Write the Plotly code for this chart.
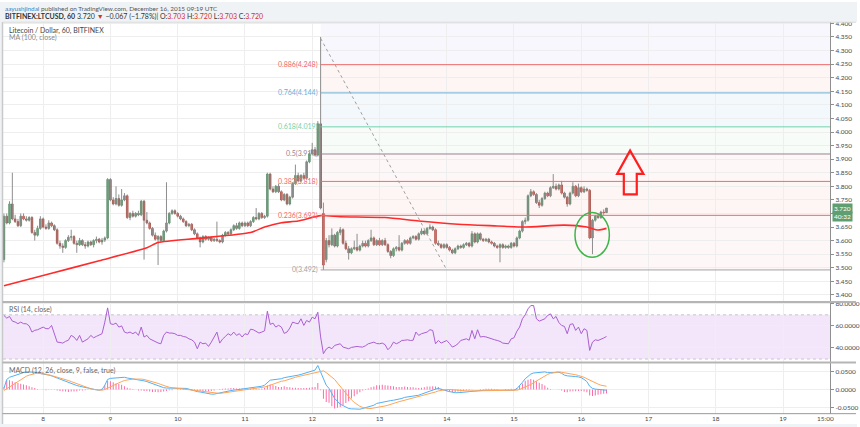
import pandas as pd
import plotly.graph_objects as go

# ------------------------------------------------------------------ data
times = pd.date_range("2015-12-07 10:00", periods=216, freq="h")

opens = [
    3.530, 3.690, 3.665, 3.735, 3.680, 3.670, 3.655, 3.690, 3.680, 3.675, 3.685, 3.630, 3.620, 3.645,
    3.680, 3.650, 3.645, 3.665, 3.655, 3.640, 3.590, 3.580, 3.575, 3.600, 3.612, 3.615, 3.590, 3.585, 3.600, 3.585, 3.580, 3.595, 3.585, 3.600, 3.605, 3.595, 3.602, 3.610,
    3.825, 3.750, 3.735, 3.755, 3.730, 3.750, 3.765, 3.685, 3.700, 3.690, 3.700, 3.695, 3.745, 3.675, 3.665, 3.645, 3.620, 3.605, 3.615, 3.600, 3.635, 3.665, 3.700, 3.710,
    3.700, 3.690, 3.680, 3.670, 3.655, 3.660, 3.640, 3.625, 3.610, 3.595, 3.615, 3.605, 3.610, 3.600, 3.605, 3.600, 3.595, 3.620, 3.630, 3.625, 3.640, 3.655, 3.645, 3.665,
    3.655, 3.665, 3.655, 3.670, 3.685, 3.680, 3.700, 3.685, 3.690, 3.845, 3.790, 3.780, 3.800, 3.780, 3.750, 3.770, 3.735, 3.760, 3.810, 3.840, 3.820, 3.840, 3.830, 3.890,
    3.920, 3.935, 3.915, 4.030, 3.700, 3.530, 3.600, 3.585, 3.620, 3.580, 3.630, 3.640, 3.590, 3.570, 3.555, 3.570, 3.575, 3.565, 3.580, 3.590, 3.580, 3.600, 3.610, 3.585,
    3.600, 3.585, 3.600, 3.585, 3.560, 3.545, 3.570, 3.575, 3.565, 3.590, 3.600, 3.590, 3.610, 3.615, 3.605, 3.625, 3.635, 3.625, 3.645, 3.650, 3.640, 3.590, 3.585, 3.575,
    3.585, 3.575, 3.565, 3.555, 3.570, 3.580, 3.575, 3.585, 3.590, 3.580, 3.625, 3.595, 3.625, 3.605, 3.600, 3.605, 3.595, 3.590, 3.580, 3.575, 3.585, 3.575, 3.580, 3.575,
    3.590, 3.580, 3.610, 3.635, 3.670, 3.675, 3.765, 3.780, 3.770, 3.740, 3.730, 3.755, 3.775, 3.765, 3.795, 3.800, 3.790, 3.805, 3.775, 3.760, 3.735, 3.775, 3.800, 3.765,
    3.795, 3.780, 3.790, 3.785, 3.610, 3.675, 3.690, 3.685, 3.705, 3.703,
]
highs = [
    3.700, 3.700, 3.745, 3.850, 3.695, 3.680, 3.700, 3.700, 3.690, 3.690, 3.690, 3.640, 3.655, 3.690,
    3.685, 3.660, 3.675, 3.670, 3.660, 3.645, 3.600, 3.590, 3.605, 3.620, 3.640, 3.620, 3.600, 3.610, 3.605, 3.595, 3.600, 3.600, 3.605, 3.615, 3.610, 3.610, 3.615, 3.830,
    3.830, 3.760, 3.800, 3.770, 3.790, 3.775, 3.770, 3.705, 3.710, 3.705, 3.710, 3.750, 3.750, 3.705, 3.670, 3.650, 3.630, 3.620, 3.620, 3.640, 3.815, 3.705, 3.715, 3.715,
    3.705, 3.695, 3.685, 3.675, 3.665, 3.665, 3.645, 3.630, 3.615, 3.620, 3.620, 3.615, 3.615, 3.610, 3.670, 3.605, 3.625, 3.635, 3.635, 3.645, 3.660, 3.665, 3.670, 3.670,
    3.670, 3.670, 3.675, 3.690, 3.720, 3.705, 3.705, 3.695, 3.850, 3.850, 3.800, 3.805, 3.810, 3.785, 3.775, 3.775, 3.765, 3.815, 3.880, 3.850, 3.845, 3.850, 3.895, 3.925,
    3.960, 3.945, 4.040, 4.350, 3.740, 3.610, 3.620, 3.645, 3.625, 3.635, 3.650, 3.645, 3.600, 3.580, 3.575, 3.600, 3.625, 3.585, 3.600, 3.600, 3.605, 3.640, 3.615, 3.605,
    3.610, 3.605, 3.610, 3.590, 3.565, 3.575, 3.580, 3.620, 3.595, 3.605, 3.605, 3.615, 3.620, 3.620, 3.630, 3.645, 3.640, 3.650, 3.660, 3.655, 3.645, 3.600, 3.590, 3.590,
    3.590, 3.580, 3.570, 3.575, 3.585, 3.585, 3.590, 3.595, 3.595, 3.635, 3.630, 3.630, 3.630, 3.610, 3.610, 3.610, 3.600, 3.595, 3.585, 3.590, 3.590, 3.585, 3.585, 3.595,
    3.595, 3.615, 3.640, 3.675, 3.685, 3.770, 3.790, 3.785, 3.775, 3.750, 3.760, 3.780, 3.780, 3.800, 3.845, 3.810, 3.810, 3.820, 3.780, 3.765, 3.780, 3.815, 3.805, 3.810,
    3.800, 3.800, 3.795, 3.790, 3.680, 3.695, 3.700, 3.710, 3.715, 3.720,
]
lows = [
    3.520, 3.660, 3.660, 3.675, 3.665, 3.650, 3.650, 3.675, 3.670, 3.670, 3.625, 3.600, 3.615, 3.640,
    3.645, 3.640, 3.640, 3.650, 3.635, 3.585, 3.570, 3.555, 3.570, 3.595, 3.600, 3.585, 3.555, 3.580, 3.580, 3.570, 3.575, 3.580, 3.575, 3.590, 3.590, 3.585, 3.595, 3.605,
    3.745, 3.730, 3.730, 3.725, 3.725, 3.745, 3.680, 3.675, 3.685, 3.685, 3.690, 3.690, 3.530, 3.660, 3.640, 3.615, 3.600, 3.510, 3.595, 3.595, 3.630, 3.660, 3.695, 3.695,
    3.685, 3.675, 3.665, 3.650, 3.650, 3.635, 3.620, 3.605, 3.575, 3.590, 3.600, 3.600, 3.595, 3.595, 3.595, 3.590, 3.590, 3.615, 3.620, 3.620, 3.635, 3.640, 3.640, 3.650,
    3.650, 3.650, 3.650, 3.665, 3.675, 3.675, 3.680, 3.680, 3.685, 3.785, 3.775, 3.775, 3.775, 3.745, 3.745, 3.730, 3.730, 3.755, 3.805, 3.815, 3.815, 3.825, 3.825, 3.885,
    3.915, 3.910, 3.910, 3.715, 3.492, 3.520, 3.575, 3.580, 3.575, 3.575, 3.620, 3.585, 3.565, 3.530, 3.550, 3.565, 3.560, 3.560, 3.575, 3.575, 3.575, 3.595, 3.580, 3.580,
    3.580, 3.580, 3.580, 3.555, 3.535, 3.540, 3.560, 3.560, 3.560, 3.585, 3.585, 3.585, 3.605, 3.600, 3.600, 3.620, 3.620, 3.620, 3.640, 3.635, 3.585, 3.580, 3.570, 3.570,
    3.570, 3.560, 3.550, 3.550, 3.565, 3.570, 3.570, 3.580, 3.575, 3.575, 3.590, 3.590, 3.600, 3.595, 3.595, 3.590, 3.585, 3.575, 3.570, 3.520, 3.570, 3.570, 3.570, 3.570,
    3.575, 3.575, 3.605, 3.630, 3.660, 3.670, 3.760, 3.765, 3.735, 3.720, 3.725, 3.750, 3.760, 3.760, 3.790, 3.785, 3.785, 3.770, 3.755, 3.725, 3.730, 3.770, 3.760, 3.760,
    3.775, 3.775, 3.780, 3.605, 3.550, 3.670, 3.680, 3.680, 3.695, 3.703,
]
closes = [
    3.690, 3.665, 3.735, 3.680, 3.670, 3.655, 3.690, 3.680, 3.675, 3.685, 3.630, 3.620, 3.645, 3.680,
    3.650, 3.645, 3.665, 3.655, 3.640, 3.590, 3.580, 3.575, 3.600, 3.612, 3.615, 3.590, 3.585, 3.600, 3.585, 3.580, 3.595, 3.585, 3.600, 3.605, 3.595, 3.602, 3.610, 3.825,
    3.750, 3.735, 3.755, 3.730, 3.750, 3.765, 3.685, 3.700, 3.690, 3.700, 3.695, 3.745, 3.675, 3.665, 3.645, 3.620, 3.605, 3.615, 3.600, 3.635, 3.665, 3.700, 3.710, 3.700,
    3.690, 3.680, 3.670, 3.655, 3.660, 3.640, 3.625, 3.610, 3.595, 3.615, 3.605, 3.610, 3.600, 3.605, 3.600, 3.595, 3.620, 3.630, 3.625, 3.640, 3.655, 3.645, 3.665, 3.655,
    3.665, 3.655, 3.670, 3.685, 3.680, 3.700, 3.685, 3.690, 3.845, 3.790, 3.780, 3.800, 3.780, 3.750, 3.770, 3.735, 3.760, 3.810, 3.840, 3.820, 3.840, 3.830, 3.890, 3.920,
    3.935, 3.915, 4.030, 3.720, 3.510, 3.600, 3.585, 3.620, 3.580, 3.630, 3.640, 3.590, 3.570, 3.555, 3.570, 3.575, 3.565, 3.580, 3.590, 3.580, 3.600, 3.610, 3.585, 3.600,
    3.585, 3.600, 3.585, 3.560, 3.545, 3.570, 3.575, 3.565, 3.590, 3.600, 3.590, 3.610, 3.615, 3.605, 3.625, 3.635, 3.625, 3.645, 3.650, 3.640, 3.590, 3.585, 3.575, 3.585,
    3.575, 3.565, 3.555, 3.570, 3.580, 3.575, 3.585, 3.590, 3.580, 3.625, 3.595, 3.625, 3.605, 3.600, 3.605, 3.595, 3.590, 3.580, 3.575, 3.585, 3.575, 3.580, 3.575, 3.590,
    3.580, 3.610, 3.635, 3.670, 3.675, 3.765, 3.780, 3.770, 3.740, 3.730, 3.755, 3.775, 3.765, 3.795, 3.800, 3.790, 3.805, 3.775, 3.760, 3.735, 3.775, 3.800, 3.765, 3.795,
    3.780, 3.790, 3.785, 3.610, 3.675, 3.690, 3.685, 3.705, 3.703, 3.720,
]

# MA(100, close) read at these bar indices
ma_index = [0, 16, 34, 51, 55, 70, 88, 93, 99, 105, 113, 120, 136, 148, 162, 176, 186, 200, 208, 212, 215]
ma_value = [3.434, 3.477, 3.526, 3.574, 3.593, 3.609, 3.630, 3.650, 3.666, 3.672, 3.692, 3.688,
            3.685, 3.672, 3.660, 3.654, 3.650, 3.657, 3.650, 3.639, 3.645]

rsi = [
    69.4, 67.0, 68.5, 64.3, 63.5, 62.0, 63.4, 62.0, 61.9, 60.0,
    54.4, 56.0, 56.5, 58.0, 58.9, 57.5, 57.4, 60.4, 53.0, 45.3,
    45.0, 44.4, 46.0, 47.0, 51.4, 49.9, 46.8, 51.4, 45.3, 47.0,
    48.3, 51.4, 49.2, 50.5, 51.4, 52.9, 63.4, 76.3, 61.9, 61.3,
    62.5, 58.9, 60.0, 54.4, 53.5, 54.4, 52.9, 54.4, 51.4, 58.9,
    49.9, 51.4, 48.3, 46.8, 45.3, 44.5, 43.8, 51.4, 54.4, 53.5,
    53.5, 52.9, 51.4, 51.4, 50.4, 49.9, 48.3, 47.4, 45.3, 39.3,
    45.3, 43.8, 44.4, 41.4, 45.3, 50.0, 54.4, 44.4, 48.0, 50.4,
    52.9, 51.4, 54.4, 51.4, 52.9, 49.9, 52.9, 52.0, 57.0, 56.5,
    55.0, 53.5, 54.4, 55.5, 73.3, 61.3, 62.5, 58.9, 60.5, 58.9,
    53.2, 54.4, 58.0, 63.4, 62.5, 61.9, 66.4, 60.4, 64.9, 63.4,
    67.9, 66.4, 72.4, 50.0, 34.8, 39.0, 40.8, 39.3, 42.3, 43.0,
    43.8, 40.8, 40.0, 39.3, 40.5, 40.8, 41.4, 41.0, 40.8, 42.0,
    43.8, 44.5, 45.3, 44.0, 43.8, 44.4, 43.0, 38.4, 41.0, 45.3,
    43.8, 45.0, 46.8, 47.0, 47.4, 46.8, 47.0, 54.4, 51.4, 52.9,
    53.5, 54.4, 56.5, 55.9, 43.8, 46.8, 44.4, 45.5, 46.8, 44.0,
    40.8, 42.0, 43.8, 46.8, 47.5, 48.3, 47.0, 55.9, 48.3, 56.5,
    49.9, 50.4, 50.0, 49.0, 48.3, 47.5, 46.8, 46.0, 44.4, 44.0,
    43.8, 48.3, 49.2, 55.0, 58.9, 66.4, 70.0, 75.4, 78.4, 78.4,
    66.4, 64.3, 65.0, 66.4, 69.4, 70.9, 66.4, 68.5, 63.0, 60.4,
    59.5, 52.9, 61.3, 61.9, 55.9, 58.9, 52.9, 57.4, 55.9, 37.8,
    45.3, 47.4, 46.8, 48.3, 49.0, 50.4,
]

macd = [
    0.003, 0.028, 0.034, 0.037, 0.039, 0.042, 0.045, 0.047, 0.049, 0.049,
    0.049, 0.048, 0.046, 0.045, 0.043, 0.041, 0.040, 0.038, 0.036, 0.032,
    0.029, 0.026, 0.022, 0.018, 0.016, 0.013, 0.011, 0.009, 0.007, 0.005,
    0.003, 0.001, 0.000, -0.001, -0.002, 0.000, 0.012, 0.028, 0.031, 0.032,
    0.033, 0.034, 0.035, 0.034, 0.032, 0.031, 0.030, 0.029, 0.027, 0.026,
    0.024, 0.022, 0.019, 0.016, 0.013, 0.009, 0.007, 0.005, 0.004, 0.004,
    0.003, 0.004, 0.005, 0.005, 0.004, 0.003, 0.001, -0.002, -0.004, -0.006,
    -0.007, -0.009, -0.011, -0.012, -0.013, -0.013, -0.011, -0.010, -0.008, -0.006,
    -0.005, -0.003, -0.002, -0.001, 0.000, 0.001, 0.002, 0.003, 0.005, 0.006,
    0.007, 0.007, 0.009, 0.012, 0.020, 0.026, 0.027, 0.028, 0.028, 0.030,
    0.033, 0.034, 0.036, 0.037, 0.039, 0.040, 0.042, 0.044, 0.046, 0.049,
    0.051, 0.054, 0.067, 0.049, 0.026, 0.012, 0.003, -0.012, -0.025, -0.033,
    -0.041, -0.045, -0.050, -0.053, -0.054, -0.055, -0.055, -0.055, -0.053, -0.051,
    -0.050, -0.047, -0.044, -0.039, -0.037, -0.035, -0.034, -0.033, -0.031, -0.030,
    -0.029, -0.027, -0.025, -0.022, -0.021, -0.020, -0.018, -0.017, -0.016, -0.013,
    -0.010, -0.006, -0.003, 0.000, 0.001, 0.003, 0.000, -0.002, -0.004, -0.006,
    -0.008, -0.009, -0.009, -0.009, -0.008, -0.007, -0.006, -0.005, -0.004, -0.004,
    -0.003, -0.003, -0.002, -0.002, -0.002, -0.003, -0.003, -0.004, -0.004, -0.003,
    -0.003, -0.002, -0.002, 0.002, 0.010, 0.020, 0.030, 0.037, 0.043, 0.046,
    0.047, 0.048, 0.049, 0.049, 0.047, 0.046, 0.047, 0.048, 0.048, 0.045,
    0.040, 0.038, 0.038, 0.038, 0.036, 0.035, 0.033, 0.028, 0.022, 0.009,
    0.003, 0.001, 0.000, -0.001, -0.002, -0.002,
]
signal = [
    -0.003, 0.002, 0.008, 0.014, 0.019, 0.024, 0.029, 0.033, 0.037, 0.040,
    0.043, 0.044, 0.045, 0.045, 0.044, 0.043, 0.041, 0.039, 0.037, 0.035,
    0.033, 0.031, 0.028, 0.025, 0.022, 0.019, 0.016, 0.012, 0.010, 0.007,
    0.004, 0.002, 0.000, -0.001, -0.002, -0.002, 0.000, 0.004, 0.008, 0.012,
    0.016, 0.019, 0.022, 0.025, 0.027, 0.028, 0.029, 0.029, 0.030, 0.029,
    0.028, 0.026, 0.025, 0.023, 0.020, 0.017, 0.014, 0.011, 0.008, 0.006,
    0.005, 0.004, 0.003, 0.003, 0.003, 0.002, 0.001, 0.000, -0.001, -0.002,
    -0.003, -0.004, -0.006, -0.007, -0.009, -0.010, -0.011, -0.011, -0.010, -0.009,
    -0.008, -0.007, -0.006, -0.004, -0.003, -0.002, 0.000, 0.001, 0.002, 0.003,
    0.004, 0.005, 0.006, 0.007, 0.009, 0.012, 0.015, 0.018, 0.021, 0.023,
    0.024, 0.027, 0.030, 0.032, 0.034, 0.036, 0.038, 0.040, 0.042, 0.044,
    0.045, 0.047, 0.049, 0.051, 0.052, 0.047, 0.040, 0.035, 0.028, 0.018,
    0.008, -0.002, -0.012, -0.020, -0.029, -0.036, -0.042, -0.047, -0.050, -0.052,
    -0.053, -0.053, -0.052, -0.051, -0.049, -0.048, -0.046, -0.044, -0.041, -0.039,
    -0.036, -0.034, -0.032, -0.030, -0.028, -0.026, -0.024, -0.022, -0.020, -0.018,
    -0.016, -0.014, -0.011, -0.009, -0.007, -0.004, -0.002, -0.001, 0.000, 0.000,
    -0.001, -0.002, -0.003, -0.003, -0.004, -0.004, -0.004, -0.004, -0.004, -0.004,
    -0.004, -0.004, -0.004, -0.004, -0.004, -0.004, -0.004, -0.004, -0.004, -0.004,
    -0.004, -0.004, -0.003, -0.002, 0.000, 0.003, 0.006, 0.010, 0.014, 0.019,
    0.024, 0.029, 0.034, 0.038, 0.042, 0.045, 0.047, 0.048, 0.049, 0.048,
    0.047, 0.046, 0.044, 0.043, 0.041, 0.039, 0.037, 0.034, 0.030, 0.026,
    0.021, 0.018, 0.015, 0.012, 0.010, 0.009,
]

fib_ratio_labels = ["0", "0.236", "0.382", "0.5", "0.618", "0.764", "0.886"]
fib_prices = [3.492, 3.693, 3.818, 3.919, 4.019, 4.144, 4.248]
fib_top_price = 4.345           # level 1 (anchor high)
fib_anchor_bar = 113            # bar where the fib starts
fib_low_bar = 158               # bar where the diagonal ends

price_ticks = [round(3.40 + 0.05 * k, 2) for k in range(21)]
price_hidden = [3.70]           # covered by the last-price boxes in the reference
rsi_ticks = [40, 60, 80]
macd_ticks = [-0.05, 0.0, 0.05]
day_ticks = pd.date_range("2015-12-08", "2015-12-19", freq="D")
day_labels = [str(d.day) for d in day_ticks]

# ------------------------------------------------------------------ geometry
W, H = 860, 427


def px(x):
    return x / W


def py(y):
    return 1 - y / H


x_range = [pd.Timestamp("2015-12-07 09:40"), pd.Timestamp("2015-12-19 16:47")]
price_range = [3.3754, 4.4055]
HOUR_MS = 3600 * 1000

UP, DOWN = "#5d9c6d", "#c8473a"
GRID = "#eeeeee"
AXIS_TXT = "#4a4a4a"
FONT = "Lato, Liberation Sans, Arial, sans-serif"

fig = go.Figure()

# wicks
wx, wy = [], []
for t, lo, hi in zip(times, lows, highs):
    wx += [t, t, None]
    wy += [lo, hi, None]
fig.add_trace(go.Scatter(x=wx, y=wy, mode="lines", line=dict(color="#8d8d8d", width=1),
                         hoverinfo="skip", xaxis="x", yaxis="y"))

# bodies
up_x = [t for t, o, c in zip(times, opens, closes) if c >= o]
up_b = [o for o, c in zip(opens, closes) if c >= o]
up_h = [c - o for o, c in zip(opens, closes) if c >= o]
dn_x = [t for t, o, c in zip(times, opens, closes) if c < o]
dn_b = [c for o, c in zip(opens, closes) if c < o]
dn_h = [o - c for o, c in zip(opens, closes) if c < o]
fig.add_trace(go.Bar(x=up_x, y=up_h, base=up_b, width=0.6 * HOUR_MS,
                     marker=dict(color=UP, line=dict(color="#3f7a50", width=0.6)),
                     xaxis="x", yaxis="y", hoverinfo="skip"))
fig.add_trace(go.Bar(x=dn_x, y=dn_h, base=dn_b, width=0.6 * HOUR_MS,
                     marker=dict(color=DOWN, line=dict(color="#9a2e24", width=0.6)),
                     xaxis="x", yaxis="y", hoverinfo="skip"))

# MA
fig.add_trace(go.Scatter(x=[times[i] for i in ma_index], y=ma_value, mode="lines",
                         line=dict(color="#ff2b2b", width=1.6, shape="spline", smoothing=0.6),
                         xaxis="x", yaxis="y", hoverinfo="skip"))

# RSI
fig.add_trace(go.Scatter(x=times, y=rsi, mode="lines", line=dict(color="#a95fd0", width=1),
                         xaxis="x2", yaxis="y2", hoverinfo="skip"))

# MACD
hist = [m - s for m, s in zip(macd, signal)]
fig.add_trace(go.Bar(x=times, y=hist, width=0.35 * HOUR_MS, marker=dict(color="#fa6aa6", line=dict(width=0)),
                     xaxis="x3", yaxis="y3", hoverinfo="skip"))
fig.add_trace(go.Scatter(x=times, y=macd, mode="lines", line=dict(color="#52b0f5", width=1),
                         xaxis="x3", yaxis="y3", hoverinfo="skip"))
fig.add_trace(go.Scatter(x=times, y=signal, mode="lines", line=dict(color="#ffa556", width=1),
                         xaxis="x3", yaxis="y3", hoverinfo="skip"))

# ------------------------------------------------------------------ axes
xcommon = dict(range=x_range, domain=[px(3), px(833)], tickvals=day_ticks, ticktext=day_labels,
               showgrid=True, gridcolor=GRID, gridwidth=1, zeroline=False, showline=False,
               ticks="", fixedrange=True)
ycommon = dict(side="right", showgrid=True, gridcolor=GRID, zeroline=False, showline=True,
               linecolor="#8f8f8f", linewidth=1, ticks="outside", ticklen=3, tickcolor="#8f8f8f",
               tickfont=dict(family=FONT, size=6.5, color=AXIS_TXT), fixedrange=True)

fig.update_layout(
    xaxis=dict(**xcommon, anchor="y", showticklabels=False),
    xaxis2=dict(**xcommon, anchor="y2", matches="x", showticklabels=False),
    xaxis3=dict(**xcommon, anchor="y3", matches="x", showticklabels=True,
                tickfont=dict(family=FONT, size=6.5, color=AXIS_TXT)),
    yaxis=dict(**ycommon, anchor="x", domain=[py(301), py(20)], range=price_range,
               tickvals=price_ticks,
               ticktext=["" if v in price_hidden else f"{v:.3f}" for v in price_ticks]),
    yaxis2=dict(**ycommon, anchor="x2", domain=[py(362), py(301.5)], range=[27.03, 81.53],
                tickvals=rsi_ticks, ticktext=[f"{v:.4f}" for v in rsi_ticks]),
    yaxis3=dict(**ycommon, anchor="x3", domain=[py(413.5), py(362.5)], range=[-0.0672, 0.0744],
                tickvals=macd_ticks, ticktext=[f"{v:.4f}" for v in macd_ticks]),
)

# ------------------------------------------------------------------ shapes
shapes = []
# header / frame
shapes.append(dict(type="rect", xref="paper", yref="paper", x0=0, x1=1, y0=py(20), y1=1,
                   fillcolor="#f0f3f6", line=dict(width=0), layer="below"))
shapes.append(dict(type="rect", xref="paper", yref="paper", x0=0, x1=1, y0=0, y1=py(424),
                   fillcolor="#f0f3f6", line=dict(width=0), layer="below"))
shapes.append(dict(type="rect", xref="paper", yref="paper", x0=0, x1=px(2.5), y0=0, y1=1,
                   fillcolor="#f0f3f6", line=dict(width=0), layer="below"))
shapes.append(dict(type="line", xref="paper", yref="paper", x0=px(2.5), x1=px(2.5), y0=py(424), y1=py(20),
                   line=dict(color="#c9c9c9", width=1.5)))
shapes.append(dict(type="line", xref="paper", yref="paper", x0=px(2.5), x1=px(859), y0=py(20.3), y1=py(20.3),
                   line=dict(color="#d8d8d8", width=1)))

# fib fills (the top zone continues past level 1 to the panel top)
fib_fill_colors = ["rgba(242,80,80,0.045)", "rgba(242,80,80,0.055)", "rgba(242,80,80,0.045)",
                   "rgba(120,200,160,0.06)", "rgba(95,168,211,0.08)", "rgba(240,107,107,0.07)",
                   "rgba(150,140,230,0.07)"]
fib_line_colors = ["#a3a3a3", "#f36a6a", "#f36a6a", "#9a8190", "#72d3ac", "#6aaed8", "#f06b6b"]
bounds = fib_prices + [price_range[1]]
x_fib0 = times[fib_anchor_bar]
for k in range(len(fib_prices)):
    shapes.append(dict(type="rect", xref="x", yref="y", x0=x_fib0, x1=x_range[1],
                       y0=bounds[k], y1=bounds[k + 1], fillcolor=fib_fill_colors[k],
                       line=dict(width=0), layer="below"))
for p, c in zip(fib_prices, fib_line_colors):
    shapes.append(dict(type="line", xref="x", yref="y", x0=x_fib0, x1=x_range[1], y0=p, y1=p,
                       line=dict(color=c, width=1)))
shapes.append(dict(type="line", xref="x", yref="y", x0=x_fib0, x1=times[fib_low_bar],
                   y0=fib_top_price, y1=fib_prices[0], line=dict(color="#a0a0a0", width=1, dash="dot")))

# RSI band
shapes.append(dict(type="rect", xref="x2", yref="y2", x0=x_range[0], x1=x_range[1], y0=30, y1=70,
                   fillcolor="#f3e6fb", line=dict(width=0), layer="below"))
for lvl in (30, 70):
    shapes.append(dict(type="line", xref="x2", yref="y2", x0=x_range[0], x1=x_range[1], y0=lvl, y1=lvl,
                       line=dict(color="#c7c7c7", width=1, dash="dot"), layer="below"))

# panel separators
for yy in (301.3, 362.3):
    shapes.append(dict(type="line", xref="paper", yref="paper", x0=px(2.5), x1=px(859), y0=py(yy), y1=py(yy),
                       line=dict(color="#b5b5b5", width=2)))
shapes.append(dict(type="line", xref="paper", yref="paper", x0=px(2.5), x1=px(859), y0=py(413.6), y1=py(413.6),
                   line=dict(color="#9a9a9a", width=1)))

# red hollow arrow
arrow_pts = [(632.3, 149.3), (645.7, 172.7), (639, 172.7), (639, 193.3), (626, 193.3), (626, 172.7),
             (619.3, 172.7)]
path = "M " + " L ".join(f"{px(x):.5f},{py(y):.5f}" for x, y in arrow_pts) + " Z"
shapes.append(dict(type="path", xref="paper", yref="paper", path=path,
                   line=dict(color="#ff1f1f", width=2.2)))
# green ellipse
shapes.append(dict(type="circle", xref="paper", yref="paper", x0=px(577), x1=px(611.5),
                   y0=py(256.5), y1=py(211.5), line=dict(color="#3db54a", width=1.5)))

fig.update_layout(shapes=shapes)

# ------------------------------------------------------------------ annotations
ann = []
RED = "#d2322d"
ann.append(dict(xref="paper", yref="paper", x=px(3), y=py(6.3), xanchor="left", yanchor="middle",
                showarrow=False, font=dict(family=FONT, size=6.4, color="#555555"),
                text="<span style='color:#2f86c9'>aayushjindal</span> published on TradingView.com, "
                     "December 16, 2015 09:19 UTC"))
ann.append(dict(xref="paper", yref="paper", x=px(3), y=py(14.3), xanchor="left", yanchor="middle",
                showarrow=False, font=dict(family=FONT, size=7, color="#333333"),
                text=f"<b>BITFINEX:LTCUSD, 60</b> 3.720 <span style='color:{RED}'>▼</span> −0.067 (−1.78%)| "
                     f"O:<span style='color:{RED}'>3.703</span> H:<span style='color:{RED}'>3.720</span> "
                     f"L:<span style='color:{RED}'>3.703</span> C:<span style='color:{RED}'>3.720</span>"))
ann.append(dict(xref="paper", yref="paper", x=px(7), y=py(28.3), xanchor="left", yanchor="middle",
                showarrow=False, font=dict(family=FONT, size=7, color="#444444"),
                text="Litecoin / Dollar, 60, BITFINEX"))
ann.append(dict(xref="paper", yref="paper", x=px(7), y=py(35.8), xanchor="left", yanchor="middle",
                showarrow=False, font=dict(family=FONT, size=7, color="#8a8a8a"), text="MA (100, close)"))
ann.append(dict(xref="paper", yref="paper", x=px(7), y=py(309), xanchor="left", yanchor="middle",
                showarrow=False, font=dict(family=FONT, size=7, color="#666666"), text="RSI (14, close)"))
ann.append(dict(xref="paper", yref="paper", x=px(7), y=py(370), xanchor="left", yanchor="middle",
                showarrow=False, font=dict(family=FONT, size=7, color="#666666"),
                text="MACD (12, 26, close, 9, false, true)"))
for lab, p, c in zip(fib_ratio_labels, fib_prices, fib_line_colors):
    ann.append(dict(xref="x", yref="y", x=x_fib0, y=p, xanchor="right", yanchor="middle", xshift=-1,
                    showarrow=False, font=dict(family=FONT, size=7, color=c), text=f"{lab}({p:.3f})"))
# last price / countdown boxes
ann.append(dict(xref="paper", yref="y", x=px(834.5), y=closes[-1], xanchor="left", yanchor="middle",
                showarrow=False, bgcolor="#5f9e70", font=dict(family=FONT, size=6.5, color="white"),
                borderpad=1, text=f"{closes[-1]:.3f}"))
ann.append(dict(xref="paper", yref="y", x=px(834.5), y=closes[-1], yshift=-8, xanchor="left", yanchor="middle",
                showarrow=False, bgcolor="#5f9e70", font=dict(family=FONT, size=6.5, color="white"),
                borderpad=1, text="40:32"))
ann.append(dict(xref="x3", yref="paper", x=pd.Timestamp("2015-12-19 15:00"), y=py(418.5),
                xanchor="center", yanchor="middle", showarrow=False,
                font=dict(family=FONT, size=6.5, color=AXIS_TXT), text="15:00"))
fig.update_layout(annotations=ann)

fig.update_layout(
    width=W, height=H, autosize=False, margin=dict(l=0, r=0, t=0, b=0, pad=0),
    paper_bgcolor="white", plot_bgcolor="white", showlegend=False, barmode="overlay",
    font=dict(family=FONT, size=7, color=AXIS_TXT), hovermode=False,
)

fig.write_html("out.html", config={"displayModeBar": False, "staticPlot": True},
               post_script="document.body.style.margin='0';document.body.style.overflow='hidden';")
